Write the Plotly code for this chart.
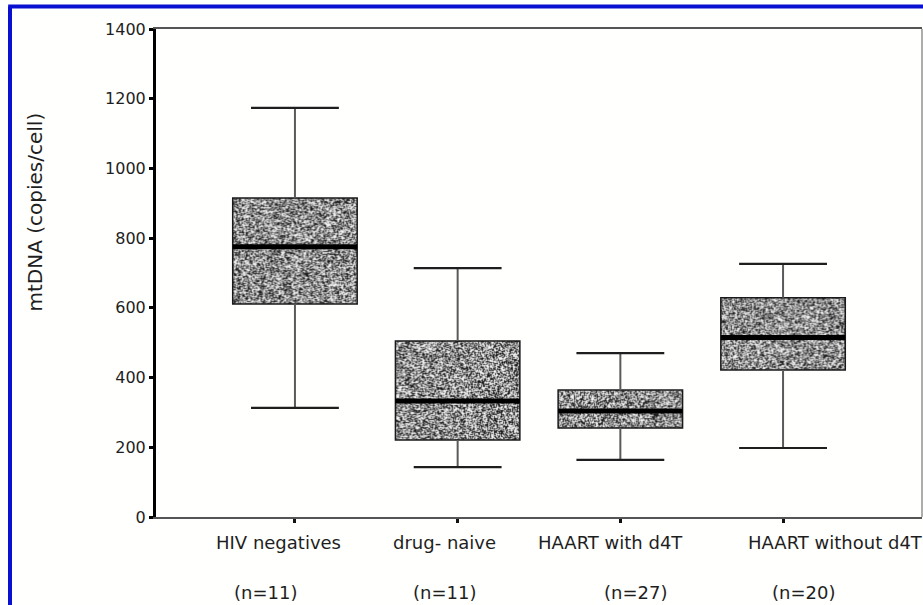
import base64
import struct
import zlib

import numpy as np
import plotly.graph_objects as go

# Groups and summary statistics of mtDNA content (copies/cell)
categories = ["HIV negatives", "drug- naive", "HAART with d4T", "HAART without d4T"]
group_sizes = [11, 11, 27, 20]
lower_whisker = [313, 143, 164, 198]
q1 = [611, 221, 255, 422]
median = [775, 333, 304, 515]
q3 = [915, 505, 364, 629]
upper_whisker = [1174, 714, 470, 726]
y_ticks = [0, 200, 400, 600, 800, 1000, 1200, 1400]

positions = list(range(len(categories)))
BOX_W = 0.765
CAP_W = 0.54
# horizontal nudges (px) of the two label rows under the axis
NAME_SHIFT = [-16, -13, -10, 52]
N_SHIFT = [-29, -13, 15, 20]

PLOT_H_PX = 488
Y_MAX = 1400


def png_gray(arr):
    """Encode a 2-D uint8 array as a grayscale PNG data URI."""
    h, w = arr.shape
    raw = b"".join(b"\x00" + arr[r].tobytes() for r in range(h))

    def chunk(tag, data):
        return (struct.pack(">I", len(data)) + tag + data
                + struct.pack(">I", zlib.crc32(tag + data) & 0xFFFFFFFF))

    png = (b"\x89PNG\r\n\x1a\n"
           + chunk(b"IHDR", struct.pack(">IIBBBBB", w, h, 8, 0, 0, 0, 0))
           + chunk(b"IDAT", zlib.compress(raw, 9))
           + chunk(b"IEND", b""))
    return "data:image/png;base64," + base64.b64encode(png).decode()


def stipple(w, h, rng):
    """Speckled black/white fill texture used inside the boxes."""
    v = rng.random((h, w))
    tone = np.where(v < 0.36, 25.0, np.where(v < 0.6, 150.0, 245.0))
    soft = (0.5 * tone
            + 0.125 * np.roll(tone, 1, 0) + 0.125 * np.roll(tone, -1, 0)
            + 0.125 * np.roll(tone, 1, 1) + 0.125 * np.roll(tone, -1, 1))
    return np.clip(soft, 0, 255).astype(np.uint8)


fig = go.Figure()

# whiskers
wx, wy = [], []
for i in positions:
    wx += [i, i, None, i, i, None]
    wy += [q3[i], upper_whisker[i], None, q1[i], lower_whisker[i], None]
fig.add_trace(go.Scatter(x=wx, y=wy, mode="lines",
                         line=dict(color="#5a5a5a", width=2), hoverinfo="skip"))

# whisker caps
cx, cy = [], []
for i in positions:
    for v in (upper_whisker[i], lower_whisker[i]):
        cx += [i - CAP_W / 2, i + CAP_W / 2, None]
        cy += [v, v, None]
fig.add_trace(go.Scatter(x=cx, y=cy, mode="lines",
                         line=dict(color="#1e1e1e", width=2.2), hoverinfo="skip"))

# box outlines (Q1..Q3); the speckled fill is laid underneath as images
fig.add_trace(go.Bar(
    x=positions,
    y=[q3[i] - q1[i] for i in positions],
    base=q1,
    width=BOX_W,
    marker=dict(color="rgba(0,0,0,0)", line=dict(color="#1a1a1a", width=1.5)),
    hoverinfo="skip",
))

rng = np.random.default_rng(11)
for i in positions:
    h_px = max(8, int(round((q3[i] - q1[i]) * PLOT_H_PX / Y_MAX)))
    fig.add_layout_image(
        source=png_gray(stipple(125, h_px, rng)),
        xref="x", yref="y",
        x=i - BOX_W / 2, y=q3[i],
        sizex=BOX_W, sizey=q3[i] - q1[i],
        xanchor="left", yanchor="top",
        sizing="stretch", layer="below", opacity=1,
    )

# medians
mx, my = [], []
for i in positions:
    mx += [i - BOX_W / 2, i + BOX_W / 2, None]
    my += [median[i], median[i], None]
fig.add_trace(go.Scatter(x=mx, y=my, mode="lines",
                         line=dict(color="#000000", width=5), hoverinfo="skip"))

LABEL_FONT = dict(family="DejaVu Sans, Verdana, sans-serif", size=18, color="#1e1e1e")

# category labels and group sizes under the axis
for i in positions:
    fig.add_annotation(x=i, y=-0.053, xref="x", yref="paper", text=categories[i],
                       showarrow=False, xanchor="center", yanchor="middle",
                       xshift=NAME_SHIFT[i], font=LABEL_FONT)
    fig.add_annotation(x=i, y=-0.154, xref="x", yref="paper",
                       text=f"(n={group_sizes[i]})",
                       showarrow=False, xanchor="center", yanchor="middle",
                       xshift=N_SHIFT[i], font=LABEL_FONT)

# y-axis title
fig.add_annotation(x=-0.158, y=0.626, xref="paper", yref="paper",
                   text="mtDNA (copies/cell)", textangle=-90, showarrow=False,
                   xanchor="center", yanchor="middle",
                   font=dict(family="DejaVu Sans, Verdana, sans-serif",
                             size=20, color="#1e1e1e"))

# right border and blue frame
fig.add_shape(type="line", xref="paper", yref="paper", x0=1, x1=1, y0=0, y1=1,
              line=dict(color="#777", width=1.2))
fig.add_shape(type="line", xref="paper", yref="paper",
              x0=-0.1906, x1=-0.1906, y0=-0.3, y1=1.046,
              line=dict(color="#0a10d0", width=4))
fig.add_shape(type="line", xref="paper", yref="paper",
              x0=-0.193, x1=1.1, y0=1.046, y1=1.046,
              line=dict(color="#0a10d0", width=4))

fig.update_layout(
    width=923, height=605,
    margin=dict(l=156, r=1, t=29, b=88),
    paper_bgcolor="#fffffd", plot_bgcolor="rgba(0,0,0,0)",
    showlegend=False,
    font=dict(family="DejaVu Sans, Verdana, sans-serif", color="#1e1e1e"),
)
fig.update_xaxes(
    range=[-0.854, 3.854], tickvals=positions, ticktext=[""] * len(positions),
    showgrid=False, zeroline=False,
    showline=True, linecolor="#555", linewidth=2, mirror=True,
    ticks="outside", ticklen=4, tickwidth=3, tickcolor="#111",
)
fig.update_yaxes(
    range=[0, Y_MAX], tickvals=y_ticks,
    showgrid=False, zeroline=False,
    showline=True, linecolor="#000", linewidth=3,
    ticks="outside", ticklen=4, tickwidth=3, tickcolor="#000",
    tickfont=dict(size=16, color="#1e1e1e"),
)

fig.write_html("out.html")
